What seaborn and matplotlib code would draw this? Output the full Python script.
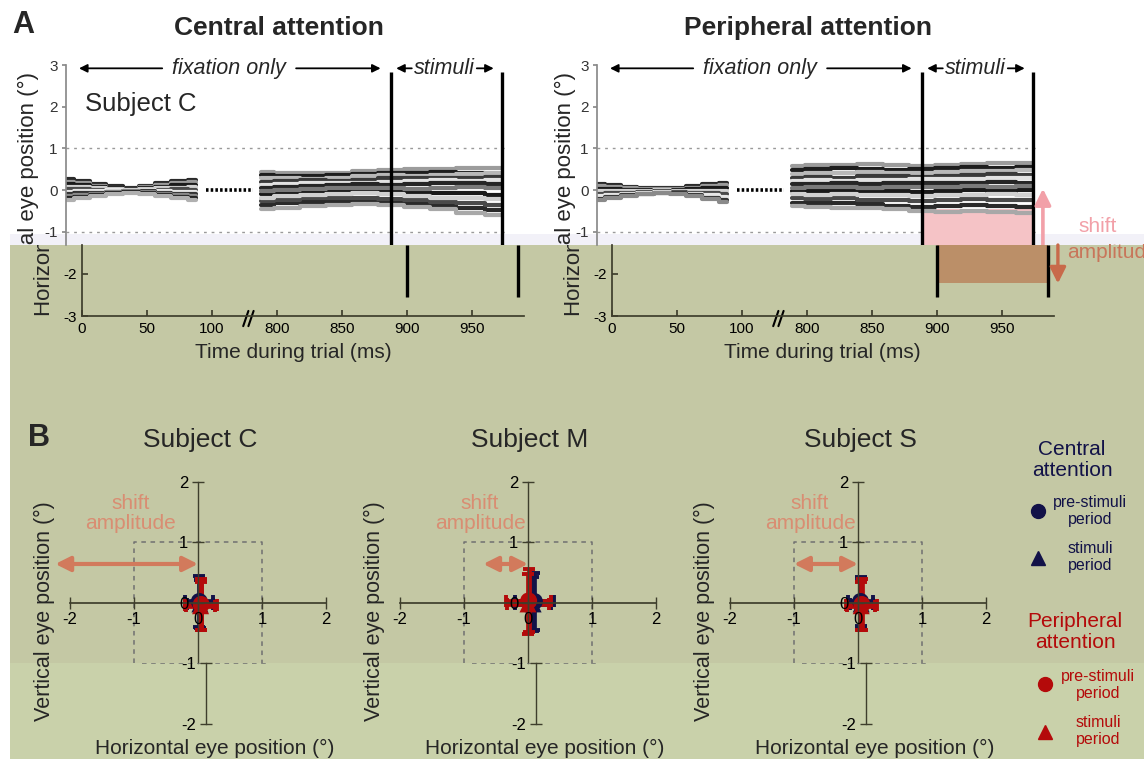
import numpy as np
import pandas as pd
import matplotlib
matplotlib.use("Agg")
import matplotlib.pyplot as plt
import seaborn as sns
from matplotlib.patches import Rectangle
from matplotlib.lines import Line2D
from matplotlib.transforms import Bbox, TransformedBbox

# ------------------------------------------------------------------ data
seg1_times = [0, 12, 25, 37, 50, 62, 75, 87, 100]
seg2_times = [800, 820, 840, 860, 880, 900, 920, 940, 960, 985]

central_seg1 = [
    [0.26, 0.21, 0.15, 0.09, 0.06, 0.10, 0.17, 0.22, 0.24],
    [0.20, 0.17, 0.10, 0.06, 0.03, 0.07, 0.12, 0.16, 0.19],
    [0.14, 0.11, 0.08, 0.04, 0.02, 0.05, 0.08, 0.12, 0.12],
    [0.08, 0.07, 0.04, 0.02, 0.01, 0.02, 0.05, 0.06, 0.07],
    [0.02, 0.02, 0.01, 0.00, 0.00, 0.00, 0.01, 0.02, 0.01],
    [-0.04, -0.03, -0.02, -0.01, -0.01, -0.01, -0.02, -0.04, -0.05],
    [-0.09, -0.08, -0.06, -0.04, -0.02, -0.03, -0.06, -0.09, -0.10],
    [-0.14, -0.12, -0.09, -0.05, -0.03, -0.05, -0.09, -0.13, -0.15],
    [-0.19, -0.16, -0.12, -0.07, -0.05, -0.07, -0.12, -0.17, -0.20],
    [-0.24, -0.20, -0.15, -0.09, -0.06, -0.09, -0.14, -0.20, -0.24],
]
central_seg2 = [
    [0.44, 0.42, 0.40, 0.42, 0.45, 0.48, 0.50, 0.50, 0.52, 0.54],
    [0.36, 0.33, 0.34, 0.37, 0.38, 0.40, 0.42, 0.44, 0.40, 0.38],
    [0.28, 0.30, 0.27, 0.30, 0.33, 0.35, 0.33, 0.36, 0.38, 0.40],
    [0.20, 0.22, 0.24, 0.22, 0.25, 0.28, 0.30, 0.28, 0.30, 0.32],
    [0.12, 0.15, 0.17, 0.18, 0.16, 0.20, 0.22, 0.24, 0.22, 0.25],
    [0.05, 0.07, 0.10, 0.12, 0.14, 0.12, 0.15, 0.16, 0.18, 0.15],
    [-0.02, 0.00, 0.02, 0.05, 0.06, 0.05, 0.03, 0.05, 0.08, 0.05],
    [-0.10, -0.08, -0.05, -0.02, -0.01, -0.03, -0.05, -0.06, -0.08, -0.12],
    [-0.18, -0.15, -0.12, -0.10, -0.08, -0.10, -0.14, -0.18, -0.20, -0.22],
    [-0.26, -0.24, -0.20, -0.18, -0.20, -0.22, -0.25, -0.28, -0.32, -0.35],
    [-0.36, -0.32, -0.28, -0.27, -0.28, -0.30, -0.33, -0.38, -0.44, -0.48],
    [-0.46, -0.42, -0.38, -0.35, -0.34, -0.35, -0.40, -0.46, -0.54, -0.60],
]
peripheral_seg1 = [
    [0.15, 0.12, 0.08, 0.05, 0.04, 0.06, 0.10, 0.14, 0.17],
    [0.09, 0.07, 0.05, 0.03, 0.02, 0.03, 0.06, 0.09, 0.11],
    [0.03, 0.02, 0.01, 0.00, 0.00, 0.01, 0.02, 0.04, 0.05],
    [-0.03, -0.03, -0.02, -0.02, -0.01, -0.02, -0.02, -0.02, -0.02],
    [-0.09, -0.08, -0.06, -0.04, -0.03, -0.04, -0.06, -0.08, -0.09],
    [-0.15, -0.12, -0.09, -0.07, -0.05, -0.06, -0.09, -0.13, -0.16],
    [-0.21, -0.17, -0.12, -0.09, -0.07, -0.08, -0.12, -0.18, -0.23],
    [-0.25, -0.20, -0.14, -0.10, -0.08, -0.10, -0.15, -0.22, -0.29],
]
peripheral_seg2 = [
    [0.58, 0.60, 0.61, 0.62, 0.60, 0.58, 0.60, 0.62, 0.64, 0.66],
    [0.48, 0.50, 0.52, 0.50, 0.48, 0.50, 0.53, 0.55, 0.54, 0.56],
    [0.38, 0.40, 0.41, 0.43, 0.40, 0.42, 0.44, 0.45, 0.46, 0.48],
    [0.30, 0.32, 0.30, 0.33, 0.34, 0.32, 0.34, 0.36, 0.38, 0.37],
    [0.22, 0.24, 0.22, 0.25, 0.24, 0.26, 0.27, 0.26, 0.28, 0.28],
    [0.14, 0.15, 0.16, 0.15, 0.17, 0.18, 0.16, 0.18, 0.20, 0.18],
    [0.06, 0.07, 0.08, 0.06, 0.08, 0.07, 0.08, 0.10, 0.08, 0.10],
    [-0.02, -0.02, 0.00, -0.02, -0.03, -0.04, -0.02, 0.00, -0.02, 0.00],
    [-0.10, -0.12, -0.10, -0.12, -0.13, -0.14, -0.12, -0.12, -0.10, -0.12],
    [-0.20, -0.22, -0.20, -0.24, -0.25, -0.26, -0.24, -0.22, -0.24, -0.25],
    [-0.30, -0.32, -0.30, -0.34, -0.38, -0.40, -0.38, -0.36, -0.38, -0.40],
    [-0.38, -0.40, -0.42, -0.43, -0.45, -0.50, -0.52, -0.50, -0.52, -0.54],
]

stim_on, stim_off = 900, 985
time_ticks = [0, 50, 100, 800, 850, 900, 950]
top_pos_ticks = [3, 2, 1, 0, -1]
bottom_pos_ticks = [-2, -3]
fixation_window = [-1, 1]
pink_top = -0.45          # upper edge of the pink shift region
brown_bottom = -2.23      # lower edge of the brown shift region

subjects = ["Subject C", "Subject M", "Subject S"]
shift_amplitude = [2.23, 0.70, 1.00]
attention = ["Central", "Central", "Peripheral", "Peripheral"]
period = ["pre-stimuli", "stimuli", "pre-stimuli", "stimuli"]
subjC_x = [0.02, 0.03, 0.05, 0.04]
subjC_y = [0.02, -0.02, -0.03, -0.05]
subjC_xsd = [0.22, 0.20, 0.25, 0.22]
subjC_ysd = [0.42, 0.40, 0.42, 0.40]
subjM_x = [0.10, 0.08, 0.01, 0.00]
subjM_y = [0.02, -0.02, 0.03, -0.02]
subjM_xsd = [0.30, 0.28, 0.35, 0.33]
subjM_ysd = [0.47, 0.45, 0.52, 0.50]
subjS_x = [0.04, 0.05, 0.06, 0.05]
subjS_y = [0.02, -0.02, -0.03, -0.05]
subjS_xsd = [0.20, 0.18, 0.24, 0.22]
subjS_ysd = [0.40, 0.38, 0.42, 0.40]

# ------------------------------------------------------------------ style
sns.set_theme(style="white")
plt.rcParams["font.family"] = ["Liberation Sans", "DejaVu Sans"]
plt.rcParams["axes.facecolor"] = "none"

W, H = 1144, 759
fig = plt.figure(figsize=(W / 100, H / 100), dpi=100)
fig.patch.set_facecolor("white")

OLIVE = "#c4c8a4"
OLIVE_LIGHT = "#c9d1aa"
LAVENDER = "#f2f1f8"
NAVY = "#121248"
RED = "#b40a0a"
PINK = "#f5c3c6"
PINK_ARROW = "#f2a0a8"
BROWN = "#bb8f68"
BROWN_ARROW = "#c86a4a"
B_ARROW = "#d27a5c"
B_TEXT = "#d98d72"
SPINE_DARK = "#3e3e2c"

seg1_shades = ["#2a2a2a", "#9a9a9a", "#1a1a1a", "#d2d2d2", "#4a4a4a",
               "#e6e6e6", "#333333", "#8a8a8a", "#222222", "#b0b0b0"]
seg2_shades = ["#9c9c9c", "#1e1e1e", "#b8b8b8", "#3a3a3a", "#e2e2e2", "#262626",
               "#7a7a7a", "#1a1a1a", "#d0d0d0", "#4a4a4a", "#2a2a2a", "#a8a8a8"]


def fx(x):
    return x / W


def fy(y):
    return 1 - y / H


def add_ax(left, top, right, bottom):
    return fig.add_axes([fx(left), fy(bottom), (right - left) / W, (bottom - top) / H])


def clip_box(top, bottom, left=0, right=W):
    return TransformedBbox(Bbox([[fx(left), fy(bottom)], [fx(right), fy(top)]]), fig.transFigure)


def ftext(x, y, s, clip=None, **kw):
    t = fig.text(fx(x), fy(y), s, **kw)
    if clip is not None:
        t.set_clip_box(clip_box(*clip))
        t.set_clip_on(True)
    return t


# background blocks
for (l, t, r, b, c) in [(10, 234, W, 245, LAVENDER), (10, 245, W, H, OLIVE), (10, 663, W, H, OLIVE_LIGHT)]:
    fig.add_artist(Rectangle((fx(l), fy(b)), (r - l) / W, (b - t) / H, transform=fig.transFigure,
                             facecolor=c, edgecolor="none", zorder=-5))

BREAK = 650


def tx(t):
    return t if t < 400 else t - BREAK


def traces_df(seg1, seg2):
    rows = []
    for i, tr in enumerate(seg1):
        for t, v in zip(seg1_times, tr):
            rows.append((f"a{i}", tx(t), v, seg1_shades[i]))
    for i, tr in enumerate(seg2):
        for t, v in zip(seg2_times, tr):
            rows.append((f"b{i}", tx(t), v, seg2_shades[i]))
    return pd.DataFrame(rows, columns=["unit", "tx", "pos", "shade"])


palette = {c: c for c in seg1_shades + seg2_shades}
YB = -1.32   # value at the white / olive boundary


def panel_A(top_left, bot_left, seg1, seg2, title, title_x, peripheral):
    axT = add_ax(top_left, 65, top_left + 442, 245)
    axT.set_xlim(0, 340)
    axT.set_ylim(YB, 3)
    axB = add_ax(bot_left, 245, bot_left + 442, 316)
    axB.set_xlim(0, 340)
    axB.set_ylim(-3, YB)

    df = traces_df(seg1, seg2)
    if peripheral:
        axT.fill_between([tx(stim_on), tx(stim_off)], YB, pink_top, color=PINK, lw=0, zorder=0.4)
        axB.fill_between([tx(stim_on), tx(stim_off)], brown_bottom, YB, color=BROWN, lw=0, zorder=0.4)
    sns.lineplot(data=df, x="tx", y="pos", units="unit", hue="shade", estimator=None,
                 palette=palette, legend=False, linewidth=3.0, drawstyle="steps-mid",
                 ax=axT, zorder=1)
    for v in fixation_window:
        axT.axhline(v, color="#9a9a9a", ls=(0, (2, 3.5)), lw=1.0, zorder=0.3)
    axT.plot([108, 144], [0, 0], color="black", lw=2.6, ls=(0, (0.7, 0.6)), zorder=2)
    axT.vlines([tx(stim_on), tx(stim_off)], YB, 2.83, color="black", lw=2.4, zorder=3)
    axB.vlines([tx(stim_on), tx(stim_off)], -2.55, YB, color="black", lw=2.4, zorder=3)

    # annotations of periods
    ay = 2.92
    axT.text(125, ay, "fixation only", style="italic", ha="center", va="center", fontsize=15.5)
    ap = dict(arrowstyle="-|>", color="black", lw=1.3, mutation_scale=12, shrinkA=0, shrinkB=0)
    axT.annotate("", xy=(10, ay), xytext=(74, ay), arrowprops=ap)
    axT.annotate("", xy=(242, ay), xytext=(177, ay), arrowprops=ap)
    axT.text(291, ay, "stimuli", style="italic", ha="center", va="center", fontsize=15.5)
    axT.annotate("", xy=(254, ay), xytext=(266, ay), arrowprops=ap)
    axT.annotate("", xy=(329, ay), xytext=(316, ay), arrowprops=ap)

    # axes styling
    for s in ["top", "right", "bottom"]:
        axT.spines[s].set_visible(False)
    axT.spines["left"].set_color("#8a8a8a")
    axT.set_xticks([])
    axT.set_yticks(top_pos_ticks)
    axT.set_yticklabels([str(v) for v in top_pos_ticks])
    axT.tick_params(axis="y", direction="out", length=3, color="#8a8a8a", labelsize=11,
                    labelcolor="#333333", pad=3, left=True)
    axT.set_xlabel("")
    axT.set_ylabel("")

    for s in ["top", "right"]:
        axB.spines[s].set_visible(False)
    for s in ["left", "bottom"]:
        axB.spines[s].set_color(SPINE_DARK)
    axB.set_xticks([tx(t) for t in time_ticks])
    axB.set_xticklabels([str(t) for t in time_ticks])
    axB.set_yticks(bottom_pos_ticks)
    axB.set_yticklabels([str(v) for v in bottom_pos_ticks])
    axB.tick_params(direction="in", length=4, color=SPINE_DARK, labelsize=11, labelcolor="black",
                    left=True, bottom=True, pad=4)
    # axis break mark
    for dx in (0, 4):
        axB.plot([124 + dx, 128 + dx], [-3.24, -2.88], color="black", lw=1.5, clip_on=False)

    if peripheral:
        axT.annotate("", xy=(343, 0.03), xytext=(343, YB), annotation_clip=False,
                     arrowprops=dict(arrowstyle="-|>", color=PINK_ARROW, lw=2.6, mutation_scale=24,
                                     shrinkA=0, shrinkB=0))
        axB.annotate("", xy=(343, brown_bottom), xytext=(343, YB), annotation_clip=False,
                     arrowprops=dict(arrowstyle="-|>", color=BROWN_ARROW, lw=2.4, mutation_scale=24,
                                     shrinkA=0, shrinkB=0))
    ftext(title_x, 28, title, ha="center", va="center", fontsize=19, fontweight="bold")
    return axT, axB


panel_A(66, 82, central_seg1, central_seg2, "Central attention", 279, False)
panel_A(597, 612, peripheral_seg1, peripheral_seg2, "Peripheral attention", 808, True)

# A texts
ftext(12, 25, "A", ha="left", va="center", fontsize=22, fontweight="bold")
ftext(85, 104, "Subject C", ha="left", va="center", fontsize=18.5)
for xt, xbm in [(28, 44), (565, 574)]:
    ftext(xt, 72, "Horizontal eye position (°)", rotation=90, ha="center", va="top",
          fontsize=16, clip=(0, 245))
    ftext(xbm, 316, "Horizontal eye position (°)", rotation=90, ha="center", va="bottom",
          fontsize=16, clip=(245, H))
ftext(293, 352, "Time during trial (ms)", ha="center", va="center", fontsize=15)
ftext(822, 352, "Time during trial (ms)", ha="center", va="center", fontsize=15)
ftext(1098, 227, "shift", ha="center", va="center", fontsize=15, color=PINK_ARROW)
ftext(1067, 258, "amplitude", ha="left", va="baseline", fontsize=15, color="#c8765a",
      clip=(244, H))

# ------------------------------------------------------------------ panel B
subj_data = [
    (subjC_x, subjC_y, subjC_xsd, subjC_ysd),
    (subjM_x, subjM_y, subjM_xsd, subjM_ysd),
    (subjS_x, subjS_y, subjS_xsd, subjS_ysd),
]
centers = [198, 528, 858]
text_x = [-1.06, -0.75, -0.75]
XS, YS, Y0, YCUT = 64.0, 60.5, 602.7, 663
ycut_val = -(YCUT - Y0) / YS
colors = {"Central": NAVY, "Peripheral": RED}

for k, (cx, name) in enumerate(zip(centers, subjects)):
    xs, ys, xsd, ysd = subj_data[k]
    axU = add_ax(cx - 2.1 * XS, Y0 - 2.1 * YS, cx + 2.1 * XS, YCUT)
    axU.set_xlim(-2.1, 2.1)
    axU.set_ylim(ycut_val, 2.1)
    axL = add_ax(cx + 8 - 2.1 * XS, YCUT, cx + 8 + 2.1 * XS, Y0 + 2.1 * YS)
    axL.set_xlim(-2.1, 2.1)
    axL.set_ylim(-2.1, ycut_val)

    box = dict(color="#707070", lw=1.1, ls=(0, (3, 3)))
    axU.plot([-1, -1, 1, 1], [ycut_val, 1, 1, ycut_val], **box)
    axL.plot([-1, -1, 1, 1], [ycut_val, -1, -1, ycut_val], **box)

    df = pd.DataFrame({"x": xs, "y": ys, "xsd": xsd, "ysd": ysd,
                       "attention": attention, "period": period})
    for _, r in df.iterrows():
        axU.errorbar(r["x"], r["y"], xerr=r["xsd"], yerr=r["ysd"], fmt="none",
                     ecolor=colors[r["attention"]], elinewidth=3.4, capsize=4,
                     capthick=2.8, zorder=2)
    sns.scatterplot(data=df, x="x", y="y", hue="attention", style="period",
                    palette=colors, markers={"pre-stimuli": "o", "stimuli": "^"},
                    s=150, edgecolor="none", legend=False, ax=axU, zorder=2.2)
    axU.set_xlabel("")
    axU.set_ylabel("")

    for ax in (axU, axL):
        for s in ["top", "right"]:
            ax.spines[s].set_visible(False)
        ax.spines["left"].set_position(("data", 0))
        ax.spines["left"].set_color(SPINE_DARK)
        ax.spines["left"].set_linewidth(1.0)
        ax.set_axisbelow(False)
    axU.spines["bottom"].set_position(("data", 0))
    axU.spines["bottom"].set_color(SPINE_DARK)
    axU.spines["bottom"].set_bounds(-2, 2)
    axU.spines["left"].set_bounds(ycut_val, 2)
    axU.set_xticks([-2, -1, 0, 1, 2])
    axU.set_xticklabels(["-2", "-1", "0", "1", "2"])
    axU.set_yticks([0, 1, 2])
    axU.set_yticklabels(["0", "1", "2"])
    axU.tick_params(direction="inout", length=8, width=1, color=SPINE_DARK, labelsize=12,
                    labelcolor="black", left=True, bottom=True, pad=3)
    axL.spines["bottom"].set_visible(False)
    axL.spines["left"].set_bounds(-2, ycut_val)
    axL.set_xticks([])
    axL.set_yticks([-2, -1])
    axL.set_yticklabels(["-2", "-1"])
    axL.tick_params(direction="inout", length=8, width=1, color=SPINE_DARK, labelsize=12,
                    labelcolor="black", left=True, pad=3)

    amp = shift_amplitude[k]
    axU.annotate("", xy=(0, 0.64), xytext=(-amp, 0.64), annotation_clip=False,
                 arrowprops=dict(arrowstyle="<|-|>", color=B_ARROW, lw=3, mutation_scale=22,
                                 shrinkA=0, shrinkB=0))
    axU.text(text_x[k], 1.47, "shift\namplitude", ha="center", va="center", fontsize=15,
             color=B_TEXT, linespacing=1.05)

    ftext(cx + 2, 440, name, ha="center", va="center", fontsize=19)
    ftext(cx + 17, 748, "Horizontal eye position (°)", ha="center", va="center", fontsize=15)
    ftext(cx - 154, 611, "Vertical eye position (°)", rotation=90, ha="center", va="center",
          fontsize=15.5)

ftext(28, 438, "B", ha="left", va="center", fontsize=22, fontweight="bold")

# legend for panel B
ftext(1072, 460, "Central\nattention", ha="center", va="center", fontsize=15, color=NAVY,
      linespacing=1.15)
ftext(1090, 511, "pre-stimuli\nperiod", ha="center", va="center", fontsize=11.5, color=NAVY,
      linespacing=1.15)
ftext(1090, 557, "stimuli\nperiod", ha="center", va="center", fontsize=11.5, color=NAVY,
      linespacing=1.15)
ftext(1075, 632, "Peripheral\nattention", ha="center", va="center", fontsize=15, color=RED,
      linespacing=1.15)
ftext(1098, 685, "pre-stimuli\nperiod", ha="center", va="center", fontsize=11.5, color=RED,
      linespacing=1.15)
ftext(1098, 731, "stimuli\nperiod", ha="center", va="center", fontsize=11.5, color=RED,
      linespacing=1.15)
for (x, y, m, c) in [(1038, 511, "o", NAVY), (1038, 558, "^", NAVY),
                     (1045, 684, "o", RED), (1045, 732, "^", RED)]:
    fig.add_artist(Line2D([fx(x)], [fy(y)], marker=m, markersize=10, color=c,
                          linestyle="none", transform=fig.transFigure))

fig.savefig("out.png", dpi=100)
